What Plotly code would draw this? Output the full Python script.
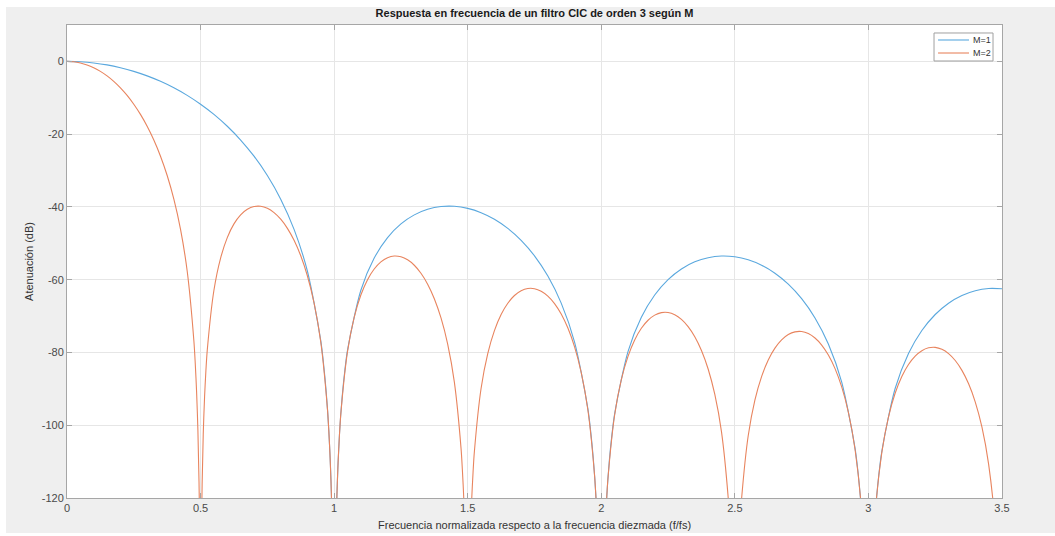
import plotly.graph_objects as go

# Frequency (normalized to decimated rate) and attenuation (dB)
freq_m1 = [0.00, 0.05, 0.10, 0.15, 0.20, 0.25, 0.30, 0.35, 0.40, 0.45,
           0.50, 0.55, 0.60, 0.65, 0.70, 0.75, 0.80, 0.85, 0.90, 0.95,
           0.96, 0.97, 0.98, 0.99, 1.00, 1.01, 1.02, 1.03, 1.04, 1.05,
           1.10, 1.15, 1.20, 1.25, 1.30, 1.35, 1.40, 1.45, 1.50, 1.55,
           1.60, 1.65, 1.70, 1.75, 1.80, 1.85, 1.90, 1.95, 1.96, 1.97,
           1.98, 1.99, 2.00, 2.01, 2.02, 2.03, 2.04, 2.05, 2.10, 2.15,
           2.20, 2.25, 2.30, 2.35, 2.40, 2.45, 2.50, 2.55, 2.60, 2.65,
           2.70, 2.75, 2.80, 2.85, 2.90, 2.95, 2.96, 2.97, 2.98, 3.00,
           3.02, 3.03, 3.04, 3.05, 3.10, 3.15, 3.20, 3.25, 3.30, 3.35,
           3.40, 3.45, 3.50]
att_m1 = [0, -0.11, -0.43, -0.97, -1.74, -2.74, -3.98, -5.48, -7.26, -9.34,
          -11.77, -14.57, -17.83, -21.61, -26.06, -31.36, -37.86, -46.17, -57.68, -76.83,
          -82.88, -90.62, -101.43, -119.74, -200, -120.26, -102.47, -92.18, -84.97, -79.44,
          -62.91, -54.05, -48.43, -44.67, -42.19, -40.66, -39.90, -39.83, -40.39, -41.57,
          -43.38, -45.89, -49.18, -53.44, -58.99, -66.44, -77.15, -95.57, -101.48, -109.08,
          -119.76, -137.94, -200, -138.20, -120.28, -109.86, -102.52, -96.87, -79.76, -70.35,
          -64.22, -59.99, -57.06, -55.10, -53.95, -53.50, -53.71, -54.54, -56.03, -58.23,
          -61.23, -65.22, -70.51, -77.70, -88.17, -106.36, -112.22, -119.78, -130.41, -200,
          -130.76, -120.30, -112.92, -107.23, -89.91, -80.30, -73.98, -69.57, -66.46, -64.34,
          -63.03, -62.42, -62.47]

freq_m2 = [0.000, 0.025, 0.050, 0.075, 0.100, 0.125, 0.150, 0.175, 0.200, 0.225,
           0.250, 0.275, 0.300, 0.325, 0.350, 0.375, 0.400, 0.425, 0.450, 0.475,
           0.480, 0.485, 0.490, 0.495, 0.500, 0.505, 0.510, 0.515, 0.520, 0.525,
           0.550, 0.575, 0.600, 0.625, 0.650, 0.675, 0.700, 0.725, 0.750, 0.775,
           0.800, 0.825, 0.850, 0.875, 0.900, 0.925, 0.950, 0.975, 0.980, 0.985,
           0.990, 0.995, 1.000, 1.005, 1.010, 1.015, 1.020, 1.025, 1.050, 1.075,
           1.100, 1.125, 1.150, 1.175, 1.200, 1.225, 1.250, 1.275, 1.300, 1.325,
           1.350, 1.375, 1.400, 1.425, 1.450, 1.475, 1.480, 1.485, 1.490, 1.500,
           1.510, 1.515, 1.520, 1.525, 1.550, 1.575, 1.600, 1.625, 1.650, 1.675,
           1.700, 1.725, 1.750, 1.775, 1.800, 1.825, 1.850, 1.875, 1.900, 1.925,
           1.950, 1.975, 1.980, 1.985, 2.000, 2.015, 2.020, 2.025, 2.050, 2.075,
           2.100, 2.125, 2.150, 2.175, 2.200, 2.225, 2.250, 2.275, 2.300, 2.325,
           2.350, 2.375, 2.400, 2.425, 2.450, 2.475, 2.480, 2.500, 2.520, 2.525,
           2.550, 2.575, 2.600, 2.625, 2.650, 2.675, 2.700, 2.725, 2.750, 2.775,
           2.800, 2.825, 2.850, 2.875, 2.900, 2.925, 2.950, 2.975, 3.000, 3.025,
           3.050, 3.075, 3.100, 3.125, 3.150, 3.175, 3.200, 3.225, 3.250, 3.275,
           3.300, 3.325, 3.350, 3.375, 3.400, 3.425, 3.450, 3.475, 3.500]
att_m2 = [0, -0.11, -0.43, -0.97, -1.74, -2.74, -3.98, -5.48, -7.26, -9.34,
          -11.77, -14.57, -17.83, -21.61, -26.06, -31.36, -37.86, -46.17, -57.68, -76.83,
          -82.88, -90.62, -101.43, -119.74, -200, -120.26, -102.47, -92.18, -84.97, -79.44,
          -62.91, -54.05, -48.43, -44.67, -42.19, -40.66, -39.90, -39.83, -40.39, -41.57,
          -43.38, -45.89, -49.18, -53.44, -58.99, -66.44, -77.15, -95.57, -101.48, -109.08,
          -119.76, -137.94, -200, -138.20, -120.28, -109.86, -102.52, -96.87, -79.76, -70.35,
          -64.22, -59.99, -57.06, -55.10, -53.95, -53.50, -53.71, -54.54, -56.03, -58.23,
          -61.23, -65.22, -70.51, -77.70, -88.17, -106.36, -112.22, -119.78, -130.41, -200,
          -130.76, -120.30, -112.92, -107.23, -89.91, -80.30, -73.98, -69.57, -66.46, -64.34,
          -63.03, -62.42, -62.47, -63.17, -64.51, -66.57, -69.44, -73.30, -78.46, -85.53,
          -95.89, -113.96, -119.81, -127.34, -200, -127.73, -120.33, -114.62, -97.20, -87.49,
          -81.07, -76.56, -73.36, -71.15, -69.74, -69.05, -69.02, -69.63, -70.90, -72.88,
          -75.68, -79.46, -84.55, -91.55, -101.84, -119.85, -125.67, -200, -126.09, -120.37,
          -102.88, -93.11, -86.64, -82.07, -78.81, -76.54, -75.08, -74.34, -74.25, -74.81,
          -76.03, -77.96, -80.70, -84.44, -89.48, -96.44, -106.68, -124.64, -200, -125.07,
          -107.55, -97.74, -91.22, -86.61, -83.31, -81.00, -79.51, -78.73, -78.60, -79.13,
          -80.31, -82.21, -84.92, -88.62, -93.63, -100.55, -110.76, -128.69, -200]

x_ticks = [0, 0.5, 1, 1.5, 2, 2.5, 3, 3.5]
x_tick_labels = ["0", "0.5", "1", "1.5", "2", "2.5", "3", "3.5"]
y_ticks = [-120, -100, -80, -60, -40, -20, 0]
y_tick_labels = ["-120", "-100", "-80", "-60", "-40", "-20", "0"]

series_names = ["M=1", "M=2"]
series_colors = ["#5aa8de", "#e8845e"]

fig = go.Figure()
fig.add_trace(go.Scatter(x=freq_m1, y=att_m1, mode="lines", name=series_names[0],
                         line=dict(color=series_colors[0], width=1.1, shape="spline", smoothing=0.8)))
fig.add_trace(go.Scatter(x=freq_m2, y=att_m2, mode="lines", name=series_names[1],
                         line=dict(color=series_colors[1], width=1.1, shape="spline", smoothing=0.8)))

font_family = "Liberation Sans, Arial, sans-serif"
axis_common = dict(
    showline=True, linecolor="#a6a6a6", linewidth=1, mirror="ticks",
    ticks="inside", ticklen=5, tickcolor="#a6a6a6",
    showgrid=True, gridcolor="#e6e6e6", gridwidth=1, zeroline=False,
    automargin=False,
    tickfont=dict(family=font_family, size=11, color="#4a4a4a"),
)

# Compact MATLAB-style legend box (paper coordinates)
leg_box = dict(x0=0.9273, x1=0.9904, y0=0.9239, y1=0.9831)
leg_rows_y = [0.9683, 0.9408]
leg_line_x = (0.9316, 0.9647)
leg_text_x = 0.9668

shapes = [
    dict(type="rect", xref="paper", yref="paper", x0=-0.1, x1=1.1, y0=1.038, y1=1.1,
         fillcolor="white", line=dict(width=0), layer="above"),
    dict(type="rect", xref="paper", yref="paper", x0=-0.1, x1=-0.0652, y0=-0.1, y1=1.1,
         fillcolor="white", line=dict(width=0), layer="above"),
    dict(type="rect", xref="paper", yref="paper", x0=-0.1, x1=1.1, y0=-0.1, y1=-0.074,
         fillcolor="white", line=dict(width=0), layer="above"),
    dict(type="rect", xref="paper", yref="paper", **leg_box,
         fillcolor="white", line=dict(color="#a0a0a0", width=1), layer="above"),
]
annotations = [
    dict(text="Frecuencia normalizada respecto a la frecuencia diezmada (f/fs)",
         xref="paper", yref="paper", x=0.5, y=-0.057, xanchor="center", yanchor="middle",
         showarrow=False, font=dict(family=font_family, size=11, color="#333333")),
]
for name, color, ry in zip(series_names, series_colors, leg_rows_y):
    shapes.append(dict(type="line", xref="paper", yref="paper",
                       x0=leg_line_x[0], x1=leg_line_x[1], y0=ry, y1=ry,
                       line=dict(color=color, width=1.1), layer="above"))
    annotations.append(dict(text=name, xref="paper", yref="paper", x=leg_text_x, y=ry,
                            xanchor="left", yanchor="middle", showarrow=False,
                            font=dict(family=font_family, size=9, color="#333333")))

fig.update_layout(
    width=1055, height=536,
    margin=dict(l=67, r=53, t=25, b=38),
    paper_bgcolor="#efefef",
    plot_bgcolor="white",
    title=dict(text="<b>Respuesta en frecuencia de un filtro CIC de orden 3 según M</b>",
               x=0.5, xref="paper", y=0.976, yanchor="middle",
               font=dict(family=font_family, size=11, color="#1a1a1a")),
    xaxis=dict(range=[0, 3.5], tickvals=x_ticks, ticktext=x_tick_labels, **axis_common),
    yaxis=dict(range=[-120, 10], tickvals=y_ticks, ticktext=y_tick_labels,
               title=dict(text="Atenuación (dB)",
                          font=dict(family=font_family, size=11, color="#333333"), standoff=5),
               **axis_common),
    showlegend=False,
    shapes=shapes,
    annotations=annotations,
)

fig.write_html("out.html")
